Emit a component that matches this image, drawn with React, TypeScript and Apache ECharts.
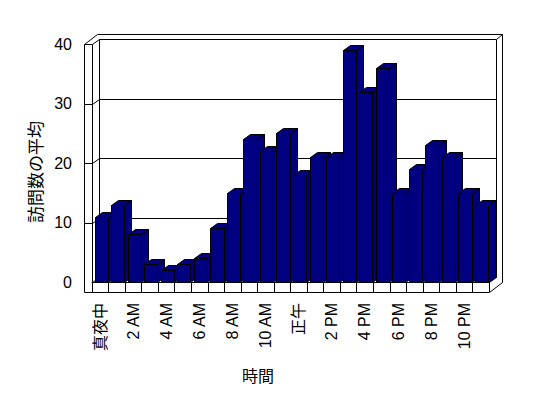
import React, { useEffect, useRef } from 'react';
import * as echarts from 'echarts';

const hours = [
  '真夜中', '1 AM', '2 AM', '3 AM', '4 AM', '5 AM', '6 AM', '7 AM', '8 AM', '9 AM', '10 AM', '11 AM',
  '正午', '1 PM', '2 PM', '3 PM', '4 PM', '5 PM', '6 PM', '7 PM', '8 PM', '9 PM', '10 PM', '11 PM',
];
const visits = [11, 13, 8, 3, 2, 3, 4, 9, 15, 24, 22, 25, 18, 21, 21, 39, 32, 36, 15, 19, 23, 21, 15, 13];
const yTicks = [0, 10, 20, 30, 40];
const yTitle = '訪問数の平均';
const xTitle = '時間';

const FONT = "'Liberation Sans', 'Noto Sans CJK JP', sans-serif";
const CJK = "'Noto Sans CJK JP', sans-serif";

export default function App() {
  const ref = useRef<HTMLDivElement>(null);
  useEffect(() => {
    const chart = echarts.init(ref.current!, null, { renderer: 'svg' });
    const DX = 7;
    const DY = -5;
    const crisp = (v: number) => Math.round(v) + 0.5;
    const ln = (x1: number, y1: number, x2: number, y2: number) => ({
      type: 'line',
      shape: { x1: crisp(x1), y1: crisp(y1), x2: crisp(x2), y2: crisp(y2) },
      style: { stroke: '#000', lineWidth: 1 },
      silent: true,
    });

    const renderFrame = (params: any, api: any) => {
      const cs = params.coordSys;
      const gx = cs.x, gy = cs.y, gw = cs.width, gh = cs.height;
      const children: any[] = [];
      yTicks.forEach((v) => {
        const y = api.coord([0, v])[1];
        if (v > 0) children.push(ln(gx - 8, y, gx, y));
        children.push(ln(gx, y, gx + DX, y + DY));
        children.push(ln(gx + DX, y + DY, gx + gw + DX, y + DY));
      });
      children.push(ln(gx - 8, gy, gx - 8, gy + gh + 10));
      children.push(ln(gx, gy, gx, gy + gh));
      children.push(ln(gx + DX, gy + DY, gx + DX, gy + gh + DY));
      children.push(ln(gx - 8, gy, gx - 8 + 2 * DX - 1, gy + 2 * DY));
      children.push(ln(gx - 8 + 2 * DX - 1, gy + 2 * DY, gx + gw + 2 * DX - 1, gy + 2 * DY));
      children.push(ln(gx + gw + DX, gy + DY, gx + gw + 2 * DX - 1, gy + 2 * DY));
      children.push(ln(gx + gw + DX, gy + DY, gx + gw + DX, gy + gh + DY));
      children.push(ln(gx + gw + 2 * DX - 1, gy + 2 * DY, gx + gw + 2 * DX - 1, gy + gh));
      children.push(ln(gx - 8, gy + gh + 10, gx + gw, gy + gh + 10));
      children.push(ln(gx + gw, gy + gh + 10, gx + gw + 2 * DX - 1, gy + gh));
      children.push(ln(gx + gw, gy + gh, gx + gw + DX, gy + gh + DY));
      return { type: 'group', children };
    };

    const renderBar = (params: any, api: any) => {
      const i = api.value(0);
      const v = api.value(1);
      const [cx, yt] = api.coord([i, v]);
      const yb = api.coord([i, 0])[1];
      const bw = api.size([1, 0])[0];
      const x0 = Math.round(cx - bw / 2 + 2.5) + 0.5;
      const x1 = Math.round(cx - bw / 2 + 2.5 + bw * 0.8) + 0.5;
      const t = Math.round(yt) + 0.5;
      const b = Math.round(yb) + 0.5;
      const style = { fill: '#000080', stroke: '#000', lineWidth: 1 };
      return {
        type: 'group',
        children: [
          { type: 'polygon', shape: { points: [[x1, t], [x1 + DX, t + DY], [x1 + DX, b + DY], [x1, b]] }, style },
          { type: 'polygon', shape: { points: [[x0, t], [x1, t], [x1 + DX, t + DY], [x0 + DX, t + DY]] }, style },
          { type: 'rect', shape: { x: x0, y: t, width: x1 - x0, height: b - t }, style },
        ],
      };
    };

    chart.setOption({
      animation: false,
      backgroundColor: '#ffffff',
      grid: { left: 92, top: 44, width: 397, height: 238, containLabel: false },
      xAxis: {
        type: 'category',
        data: hours,
        boundaryGap: true,
        axisLine: { show: true, lineStyle: { color: '#000', width: 1 } },
        axisTick: { show: true, interval: 0, length: 10, lineStyle: { color: '#000', width: 1 } },
        axisLabel: { interval: 1, rotate: 90, margin: 21, fontSize: 16, color: '#000', fontFamily: FONT },
        splitLine: { show: false },
      },
      yAxis: {
        type: 'value',
        min: 0,
        max: 40,
        interval: 10,
        axisLine: { show: false },
        axisTick: { show: false },
        splitLine: { show: false },
        axisLabel: { margin: 20, fontSize: 16, color: '#000', fontFamily: FONT },
      },
      series: [
        {
          type: 'custom',
          name: 'frame',
          z: 1,
          clip: false,
          silent: true,
          renderItem: renderFrame,
          data: [[0, 0]],
        },
        {
          type: 'custom',
          name: '訪問数の平均',
          z: 2,
          clip: false,
          renderItem: renderBar,
          encode: { x: 0, y: 1 },
          data: visits.map((v, i) => [i, v]),
        },
      ],
      graphic: [
        {
          type: 'text',
          x: 34,
          y: 172,
          rotation: Math.PI / 2,
          style: { text: yTitle, fontSize: 17, fontFamily: CJK, fill: '#000', textAlign: 'center', textVerticalAlign: 'middle' },
        },
        {
          type: 'text',
          x: 258,
          y: 375,
          style: { text: xTitle, fontSize: 16, fontFamily: CJK, fill: '#000', textAlign: 'center', textVerticalAlign: 'middle' },
        },
      ],
    });
    return () => chart.dispose();
  }, []);
  return <div ref={ref} style={{ position: 'fixed', left: 0, top: 0, width: 548, height: 398, background: '#fff' }} />;
}
